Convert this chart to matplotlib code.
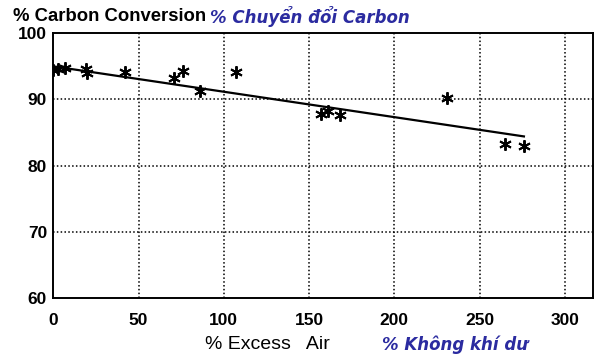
import matplotlib
matplotlib.use("Agg")
import matplotlib.pyplot as plt

# Carbon conversion vs. excess air measurements
excess_air = [0, 3, 7, 19, 20, 42, 71, 76, 86, 107, 157, 161, 168, 231, 265, 276]
conversion = [94.5, 94.6, 94.7, 94.6, 94.0, 94.1, 93.3, 94.3, 91.2, 94.1,
              87.8, 88.2, 87.7, 90.2, 83.3, 82.9]

# Fitted trend line end points
fit_x = [0, 276]
fit_y = [95.0, 84.4]

x_ticks = [0, 50, 100, 150, 200, 250, 300]
y_ticks = [60, 70, 80, 90, 100]

plt.rcParams["font.family"] = ["Liberation Sans", "DejaVu Sans"]
VI_FONT = ["DejaVu Sans"]
VI_COLOR = "#2b2ba0"

fig = plt.figure(figsize=(5.95, 3.6), dpi=100)
ax = fig.add_axes([0.0896, 0.173, 0.907, 0.7345])

ax.plot(fit_x, fit_y, color="black", linewidth=1.6, zorder=3)
ax.plot(excess_air, conversion, linestyle="none", marker=(6, 2, 0),
        markersize=9, markeredgewidth=1.4, color="black", zorder=4)

ax.set_xlim(0, 316.5)
ax.set_ylim(60, 100)
ax.set_xticks(x_ticks)
ax.set_yticks(y_ticks)
ax.tick_params(axis="both", length=0, labelsize=12.5)
ax.tick_params(axis="x", pad=11)
ax.tick_params(axis="y", pad=4.5)
for lbl in ax.get_xticklabels() + ax.get_yticklabels():
    lbl.set_fontweight("bold")

for xv in x_ticks[1:]:
    ax.axvline(xv, color="black", linestyle=(0, (1, 1.5)), linewidth=1.1, zorder=1)
for yv in y_ticks[1:-1]:
    ax.axhline(yv, color="black", linestyle=(0, (1, 1.5)), linewidth=1.1, zorder=1)

for side in ["left", "bottom", "top", "right"]:
    ax.spines[side].set_linewidth(1.4)

fig.text(0.022, 0.953, "% Carbon Conversion", fontsize=13.3, fontweight="bold",
         ha="left", va="center")
fig.text(0.353, 0.955, "% Chuyển đổi Carbon", fontsize=12, fontweight="bold",
         style="italic", color=VI_COLOR, family=VI_FONT, ha="left", va="center")
fig.text(0.345, 0.042, "% Excess   Air", fontsize=14, ha="left", va="center")
fig.text(0.642, 0.042, "% Không khí dư", fontsize=12, fontweight="bold",
         style="italic", color=VI_COLOR, family=VI_FONT, ha="left", va="center")

fig.savefig("out.png", dpi=100)
